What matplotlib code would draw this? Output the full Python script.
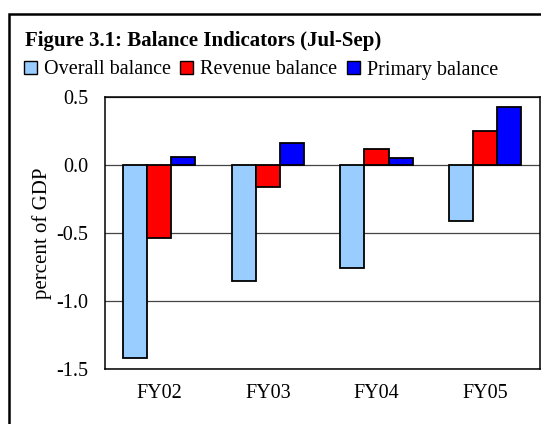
import numpy as np
import matplotlib
matplotlib.use("Agg")
import matplotlib.pyplot as plt
from matplotlib.patches import Rectangle, Patch

years = ["FY02", "FY03", "FY04", "FY05"]
overall = [-1.42, -0.85, -0.76, -0.41]
revenue = [-0.54, -0.16, 0.12, 0.25]
primary = [0.06, 0.16, 0.05, 0.43]
series_names = ["Overall balance", "Revenue balance", "Primary balance"]
colors = ["#99ccff", "#ff0000", "#0000ff"]

plt.rcParams["font.family"] = ["Liberation Serif", "DejaVu Serif"]

W, H = 541, 424
fig = plt.figure(figsize=(W / 100, H / 100), dpi=100)
ax = fig.add_axes([104.7 / W, 1 - 369 / H, 434.8 / W, 272 / H])

x = np.arange(len(years))
bw = 0.222
for i, (vals, c) in enumerate(zip([overall, revenue, primary], colors)):
    ax.bar(x + (i - 1) * bw, vals, width=bw, color=c, edgecolor="black",
           linewidth=1.3, zorder=3)

ax.set_xlim(-0.5, len(years) - 0.5)
ax.set_ylim(-1.5, 0.5)
ax.set_yticks([-1.5, -1.0, -0.5, 0.0, 0.5])
ax.set_yticklabels([f"{v:.1f}" for v in [-1.5, -1.0, -0.5, 0.0, 0.5]])
ax.set_xticks(x)
ax.set_xticklabels(years)
ax.tick_params(length=0, labelsize=14.5)
ax.tick_params(axis="y", pad=12)
ax.tick_params(axis="x", pad=11)
ax.grid(axis="y", color="#444444", linewidth=0.9, zorder=0)
for s in ax.spines.values():
    s.set_linewidth(1.1)
ax.set_ylabel("percent of GDP", fontsize=15)
ax.yaxis.set_label_coords((52 - 104.7) / 434.8, 0.5)

# outer frame
fig.add_artist(Rectangle((9 / W, -0.1), 1.2, 1 - 14 / H + 0.1,
                         transform=fig.transFigure, fill=False,
                         edgecolor="black", linewidth=1.8))

fig.text(25 / W, 1 - 41 / H, "Figure 3.1: Balance Indicators (Jul-Sep)",
         fontsize=15, fontweight="bold", va="center", ha="left")

handles = [Patch(facecolor=c, edgecolor="black", linewidth=1.0) for c in colors]
fig.legend(handles, series_names, loc="center left",
           bbox_to_anchor=(24 / W, 1 - 70 / H), ncol=3, frameon=False,
           fontsize=14.5, handlelength=0.65, handleheight=0.65,
           handletextpad=0.35, columnspacing=0.45, borderaxespad=0,
           borderpad=0)

fig.savefig("out.png", dpi=100)
